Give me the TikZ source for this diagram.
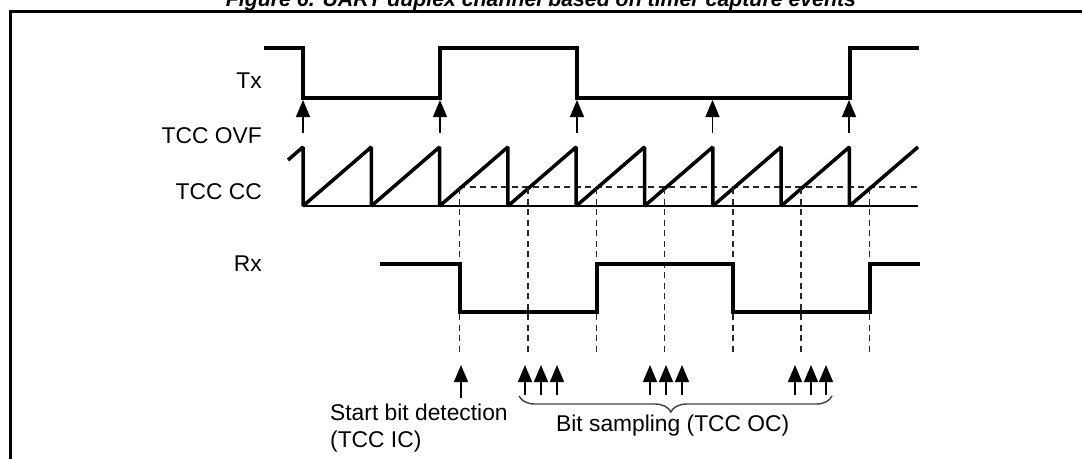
\documentclass[tikz,border=0pt]{standalone}
\usepackage{fontspec}
\setmainfont{Liberation Sans}
\usetikzlibrary{arrows.meta,decorations.pathreplacing}
\begin{document}
\begin{tikzpicture}[x=1pt,y=-1pt,
  signal/.style={line width=4pt,line join=miter,line cap=butt},
  sawtooth/.style={line width=3.5pt,line join=miter,miter limit=2},
  axisline/.style={line width=1.5pt},
  guide/.style={line width=1.4pt,black!85,dash pattern=on 6pt off 4.5pt},
  evarrow/.style={line width=1.4pt,-{Triangle[width=14pt,length=17pt]}},
  lbl/.style={font=\fontsize{22.8}{26}\selectfont,inner sep=0pt,anchor=base east},
  note/.style={font=\fontsize{22.8}{26}\selectfont,inner sep=0pt,anchor=base west},
  ttl/.style={font=\fontsize{21.3}{24}\selectfont\bfseries\itshape,inner sep=0pt,anchor=base}]
\useasboundingbox (0,0) rectangle (1082,458);
\clip (0,0) rectangle (1082,458);

% caption and frame
\node[ttl] (title) at (541,6) {Figure 6. UART duplex channel based on timer capture events};
\draw[line width=2.5pt] (1100,11.5) -- (10.5,11.5) -- (10.5,480);

% signal names
\node[lbl] (lTx)  at (262,88)  {Tx};
\node[lbl] (lOvf) at (262,143) {TCC OVF};
\node[lbl] (lCc)  at (262,199) {TCC CC};
\node[lbl] (lRx)  at (262,271) {Rx};

% Tx line
\draw[signal] (264,48) -- (303,48) -- (303,98) -- (440,98) -- (440,48)
  -- (577,48) -- (577,98) -- (849.5,98) -- (849.5,48) -- (919,48);

% overflow events
\foreach \x/\n in {303/o1,440/o2,577/o3,712.5/o4,849/o5}{
  \coordinate (\n) at (\x,133);
  \coordinate (\n t) at (\x,100);
  \draw[evarrow] (\n) -- (\n t);
}

% counter ramp, zero line and compare level
\draw[axisline] (303,206) -- (918,206);
\draw[guide] (459,187) -- (918,187);
\draw[sawtooth] (288,160) -- (303,147)
  \foreach \k in {0,...,7}{ -- ({303+68.3*\k},206) -- ({303+68.3*(\k+1)},147) }
  -- (849.4,206) -- (918,147);

% compare matches projected down to Rx
\foreach \x in {459.6,528,596.2,664.5,732.8,801.1,869.4}{
  \draw[guide] (\x,188) -- (\x,353);
}

% Rx line
\draw[signal] (380,264) -- (460,264) -- (460,312) -- (597,312) -- (597,264)
  -- (733,264) -- (733,312) -- (870,312) -- (870,264) -- (920,264);

% capture and sampling events
\coordinate (sb) at (461,398);
\coordinate (sbt) at (461,365);
\draw[evarrow] (sb) -- (sbt);
\foreach \x in {525,541,557,650,666,682,795,811,826}{
  \draw[evarrow] (\x,395) -- (\x,365);
}

% sampling span
\coordinate (bl) at (519,396);
\coordinate (br) at (832,396);
\draw[line width=1.4pt,black!75,decorate,decoration={brace,mirror,amplitude=16pt,aspect=0.485}] (bl) -- (br);

% notes
\node[note] (nStart) at (330,420) {Start bit detection};
\node[note] (nStartb) at (330,447) {(TCC IC)};
\node[note] (nSamp) at (556,431) {Bit sampling (TCC OC)};
\end{tikzpicture}
\end{document}
